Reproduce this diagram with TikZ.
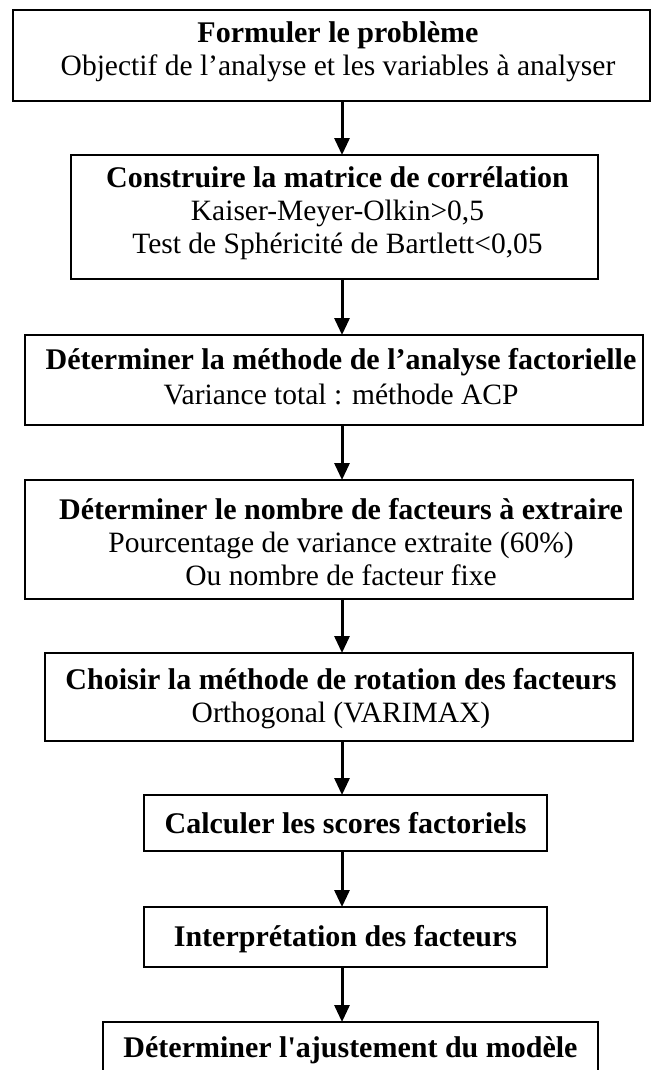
\documentclass[tikz,border=0pt]{standalone}
\usepackage{fontspec}
\setmainfont{Liberation Serif}
\usetikzlibrary{arrows.meta}
\begin{document}
\begin{tikzpicture}[x=1pt,y=-1pt,
  stepbox/.style={draw=black, line width=1.4pt, fill=white, inner sep=0pt, outer sep=0pt},
  head/.style={anchor=base, inner sep=0pt, font=\fontsize{30}{34}\selectfont\bfseries},
  body/.style={anchor=base, inner sep=0pt, font=\fontsize{29.5}{34}\selectfont},
  flow/.style={line width=3pt, -{Triangle[length=17pt,width=15pt]}}
]
\useasboundingbox (0,0) rectangle (651,1070);
\clip (0,0) rectangle (651,1070);

% boxes of the flow chart
\node[stepbox, minimum width=637pt, minimum height=91pt]  (b1) at (331.5,55.5) {};
\node[stepbox, minimum width=527pt, minimum height=124pt] (b2) at (334.5,217) {};
\node[stepbox, minimum width=618pt, minimum height=90pt]  (b3) at (334,380) {};
\node[stepbox, minimum width=608pt, minimum height=119pt] (b4) at (329,539.5) {};
\node[stepbox, minimum width=588pt, minimum height=88pt]  (b5) at (339,697) {};
\node[stepbox, minimum width=403pt, minimum height=56pt]  (b6) at (345.5,823) {};
\node[stepbox, minimum width=403pt, minimum height=60pt]  (b7) at (345.5,937) {};
\node[stepbox, minimum width=495pt, minimum height=80pt]  (b8) at (350.5,1062) {};

% texts
\node[head] (t1a) at (338,43) {Formuler le problème};
\node[body] (t1b) at (338,76) {Objectif de l’analyse et les variables à analyser};

\node[head] (t2a) at (337.5,187) {Construire la matrice de corrélation};
\node[body] (t2b) at (337.5,220) {Kaiser-Meyer-Olkin>0,5};
\node[body] (t2c) at (337.5,253) {Test de Sphéricité de Bartlett<0,05};

\node[head] (t3a) at (341,369) {Déterminer la méthode de l’analyse factorielle};
\node[body] (t3b) at (341,404) {Variance total : méthode ACP};

\node[head] (t4a) at (341,519) {Déterminer le nombre de facteurs à extraire};
\node[body] (t4b) at (341,552) {Pourcentage de variance extraite (60\%)};
\node[body] (t4c) at (341,585) {Ou nombre de facteur fixe};

\node[head] (t5a) at (341,689) {Choisir la méthode de rotation des facteurs};
\node[body] (t5b) at (341,722) {Orthogonal (VARIMAX)};

\node[head] (t6) at (345.5,833) {Calculer les scores factoriels};
\node[head] (t7) at (345.5,946) {Interprétation des facteurs};
\node[head] (t8) at (350.5,1057) {Déterminer l\textquotesingle ajustement du modèle};

% connectors along a common vertical axis
\coordinate (axis) at (342,0);
\draw[flow] (b1.south -| axis) -- (b2.north -| axis);
\draw[flow] (b2.south -| axis) -- (b3.north -| axis);
\draw[flow] (b3.south -| axis) -- (b4.north -| axis);
\draw[flow] (b4.south -| axis) -- (b5.north -| axis);
\draw[flow] (b5.south -| axis) -- (b6.north -| axis);
\draw[flow] (b6.south -| axis) -- (b7.north -| axis);
\draw[flow] (b7.south -| axis) -- (b8.north -| axis);
\end{tikzpicture}
\end{document}
